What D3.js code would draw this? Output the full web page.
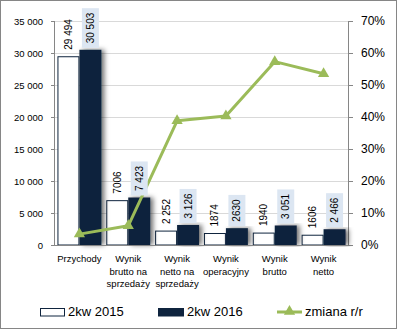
<!DOCTYPE html>
<html>
<head>
<meta charset="utf-8">
<script src="https://cdn.jsdelivr.net/npm/d3@7"></script>
<style>
  body { margin: 0; background: #fff; }
  svg { display: block; font-family: "Liberation Sans", Arial, sans-serif; }
</style>
</head>
<body>
<div id="chart"></div>
<script>
// Data
const categories = ["Przychody", "Wynik brutto na sprzedaży", "Wynik netto na sprzedaży", "Wynik operacyjny", "Wynik brutto", "Wynik netto"];
const categoryLines = [["Przychody"], ["Wynik", "brutto na", "sprzedaży"], ["Wynik", "netto na", "sprzedaży"], ["Wynik", "operacyjny"], ["Wynik", "brutto"], ["Wynik", "netto"]];
const values2015 = [29494, 7006, 2252, 1874, 1940, 1606];
const values2016 = [30503, 7423, 3126, 2630, 3051, 2466];
const labels2015 = ["29 494", "7006", "2 252", "1874", "1940", "1606"];
const labels2016 = ["30 503", "7 423", "3 126", "2630", "3 051", "2 466"];
const changePct = [3.4, 6.0, 38.8, 40.3, 57.3, 53.5];
const leftTicks = [0, 5000, 10000, 15000, 20000, 25000, 30000, 35000];
const rightTicks = [0, 10, 20, 30, 40, 50, 60, 70];
const seriesNames = ["2kw 2015", "2kw 2016", "zmiana r/r"];

const W = 398, H = 330;
const margin = { top: 21, right: 50, bottom: 85, left: 55 };
const width = W - margin.left - margin.right;
const height = H - margin.top - margin.bottom;

const navy = "#0F243E", green = "#9BBB59", grid = "#D9D9D9", axisCol = "#868686";

const root = d3.select("#chart").append("svg")
  .attr("width", W).attr("height", H);

// outer frame
root.append("rect")
  .attr("x", 0.5).attr("y", 0.5).attr("width", W - 2).attr("height", H - 2)
  .attr("fill", "#fff").attr("stroke", axisCol);

const defs = root.append("defs");
defs.append("filter").attr("id", "shadow")
  .attr("x", "-30%").attr("y", "-10%").attr("width", "180%").attr("height", "120%")
  .append("feDropShadow")
  .attr("dx", 3).attr("dy", 0).attr("stdDeviation", 2.5)
  .attr("flood-color", "#000").attr("flood-opacity", 0.55);

const svg = root.append("g").attr("transform", `translate(${margin.left},${margin.top})`);

const x0 = d3.scaleBand().domain(categories).range([0, width]).paddingInner(0.1).paddingOuter(0.05);
const x1 = d3.scaleBand().domain(["a", "b"]).range([0, x0.bandwidth()]);
const y = d3.scaleLinear().domain([0, 35000]).range([height, 0]);
const yR = d3.scaleLinear().domain([0, 70]).range([height, 0]);
const cx = c => x0(c) + x0.bandwidth() / 2;

// gridlines
svg.append("g").selectAll("line").data(leftTicks.slice(1)).join("line")
  .attr("x1", 0).attr("x2", width)
  .attr("y1", d => y(d) + 0.5).attr("y2", d => y(d) + 0.5)
  .attr("stroke", grid);

// left axis
const fmt = d => d3.format(",")(d).replace(/,/g, " ");
const leftAxis = svg.append("g")
  .call(d3.axisLeft(y).tickValues(leftTicks).tickFormat(fmt).tickSize(4).tickPadding(8));
leftAxis.select(".domain").attr("stroke", axisCol).attr("d", `M-0.5,${height}V0`);
leftAxis.selectAll(".tick line").attr("stroke", axisCol);
leftAxis.selectAll("text").attr("font-size", 9.5).attr("fill", "#000")
  .attr("font-family", "Liberation Sans, Arial, sans-serif");

// right axis
const rightAxis = svg.append("g").attr("transform", `translate(${width},0)`)
  .call(d3.axisRight(yR).tickValues(rightTicks).tickFormat(d => d + "%").tickSize(5).tickPadding(8));
rightAxis.select(".domain").attr("stroke", axisCol).attr("d", `M0.5,${height}V0`);
rightAxis.selectAll(".tick line").attr("stroke", axisCol);
rightAxis.selectAll("text").attr("font-size", 12).attr("fill", "#000")
  .attr("font-family", "Liberation Sans, Arial, sans-serif");

// bars 2015
svg.append("g").selectAll("rect").data(categories).join("rect")
  .attr("x", (c) => x0(c) + x1("a") + 0.5)
  .attr("y", (c, i) => y(values2015[i]) + 0.5)
  .attr("width", x1.bandwidth() - 1)
  .attr("height", (c, i) => height - y(values2015[i]) - 0.5)
  .attr("fill", "#fff").attr("stroke", navy).attr("stroke-width", 1);

// bars 2016
svg.append("g").selectAll("rect").data(categories).join("rect")
  .attr("x", c => x0(c) + x1("b"))
  .attr("y", (c, i) => y(values2016[i]))
  .attr("width", x1.bandwidth())
  .attr("height", (c, i) => height - y(values2016[i]))
  .attr("fill", navy).attr("filter", "url(#shadow)");

// baseline over the bars
svg.append("line").attr("x1", 0).attr("x2", width)
  .attr("y1", height + 0.5).attr("y2", height + 0.5).attr("stroke", axisCol);

// change line
const line = d3.line().x((d, i) => cx(categories[i])).y(d => yR(d));
svg.append("path").datum(changePct)
  .attr("d", line).attr("fill", "none")
  .attr("stroke", green).attr("stroke-width", 3).attr("stroke-linejoin", "round");
const tri = d3.symbol().type(d3.symbolTriangle).size(55);
svg.append("g").selectAll("path").data(changePct).join("path")
  .attr("d", tri)
  .attr("transform", (d, i) => `translate(${cx(categories[i])},${yR(d)})`)
  .attr("fill", green);

// data labels
function drawLabels(vals, labels, key, boxed) {
  const g = svg.append("g");
  vals.forEach((v, i) => {
    const bx = x0(categories[i]) + x1(key) + x1.bandwidth() / 2;
    const by = y(v);
    const lg = g.append("g").attr("transform", `translate(${bx},${by - 6.5}) rotate(-90)`);
    const t = lg.append("text")
      .attr("x", 0).attr("y", 0).attr("dy", "0.35em")
      .attr("font-size", 10).attr("fill", "#000")
      .text(labels[i]);
    if (boxed) {
      const len = t.node().getComputedTextLength();
      lg.insert("rect", "text")
        .attr("x", -4.5).attr("y", -8.5)
        .attr("width", len + 9).attr("height", 17)
        .attr("fill", "#DCE6F2");
    }
  });
}
drawLabels(values2015, labels2015, "a", false);
drawLabels(values2016, labels2016, "b", true);

// category labels
const cat = svg.append("g").attr("font-size", 9.5).attr("fill", "#000");
categoryLines.forEach((lines, i) => {
  const t = cat.append("text").attr("text-anchor", "middle")
    .attr("x", cx(categories[i])).attr("y", height + 17);
  lines.forEach((l, j) => {
    t.append("tspan").attr("x", cx(categories[i])).attr("dy", j === 0 ? 0 : 12.7).text(l);
  });
});

// legend
const leg = root.append("g").attr("font-size", 13).attr("fill", "#000");
leg.append("rect").attr("x", 40.5).attr("y", 308.5).attr("width", 24).attr("height", 7.5)
  .attr("fill", "#fff").attr("stroke", navy);
leg.append("text").attr("x", 68).attr("y", 316).text(seriesNames[0]);
leg.append("rect").attr("x", 158).attr("y", 308).attr("width", 26).attr("height", 8.5)
  .attr("fill", navy);
leg.append("text").attr("x", 187).attr("y", 316).text(seriesNames[1]);
leg.append("line").attr("x1", 277).attr("x2", 302).attr("y1", 312).attr("y2", 312)
  .attr("stroke", green).attr("stroke-width", 3);
leg.append("path").attr("d", tri).attr("transform", "translate(289.5,311.5)").attr("fill", green);
leg.append("text").attr("x", 305).attr("y", 316).text(seriesNames[2]);
</script>
</body>
</html>
